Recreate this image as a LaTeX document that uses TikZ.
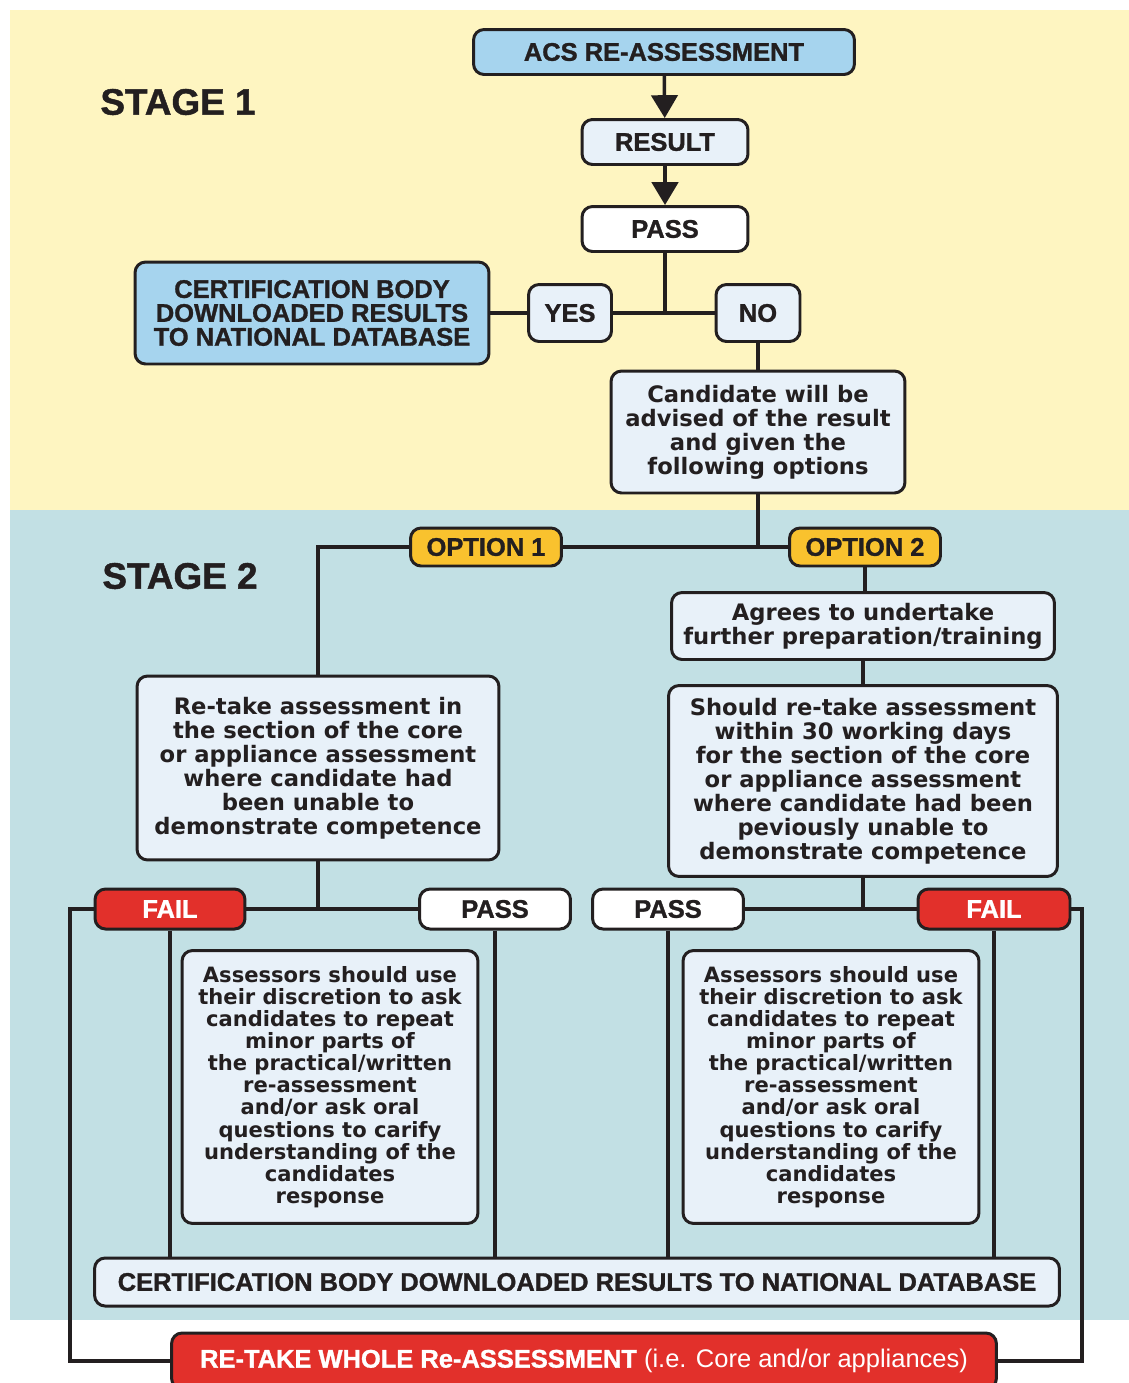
\documentclass[tikz,border=0pt]{standalone}
\usepackage{fontspec}
\setmainfont{Liberation Sans}
\newfontfamily\headfont[FakeBold=1.2]{Liberation Sans Bold}
\newfontfamily\bodyfont{DejaVu Sans}
\usetikzlibrary{arrows.meta}
\definecolor{stageyellow}{HTML}{FEF5C1}
\definecolor{stageteal}{HTML}{C2E0E4}
\definecolor{lightbox}{HTML}{A6D4EE}
\definecolor{palebox}{HTML}{E8F1F9}
\definecolor{optionbox}{HTML}{F9C22E}
\definecolor{failbox}{HTML}{E2302B}
\definecolor{boxline}{HTML}{231F20}
\tikzset{
	box/.style={draw=boxline, line width=1.7pt, rounded corners=6pt, inner sep=0pt, align=center, text=boxline},
	headbox/.style={box, font=\headfont\fontsize{14.5}{13.6}\selectfont},
	textbox/.style={box, fill=palebox, font=\bodyfont\bfseries\fontsize{12.9}{13.7}\selectfont},
	smallbox/.style={box, fill=palebox, font=\bodyfont\bfseries\fontsize{12}{12.6}\selectfont},
	stagelabel/.style={text=boxline, font=\headfont\fontsize{21}{24}\selectfont},
	link/.style={draw=boxline, line width=2pt},
	arrowlink/.style={link, -{Triangle[width=15pt,length=13pt]}},
}
\begin{document}
\begin{tikzpicture}[x=0.02cm, y=-0.02cm]
		\useasboundingbox (0,0) rectangle (1129,1383);
		\fill[white] (0,0) rectangle (1129,1383);
		\fill[stageyellow] (10,10) rectangle (1129,510);
		\fill[stageteal] (10,510) rectangle (1129,1320);
		\node[stagelabel] (stage1) at (178,102) {STAGE 1};
		\node[stagelabel] (stage2) at (180,576) {STAGE 2};
		\node[headbox, fill=lightbox, minimum width=7.62cm, minimum height=0.9cm] (acs) at (664,52) {ACS RE-ASSESSMENT};
		\node[headbox, fill=palebox, minimum width=3.32cm, minimum height=0.9cm] (result) at (665,142) {RESULT};
		\node[headbox, fill=white, minimum width=3.32cm, minimum height=0.9cm] (passtop) at (665,229) {PASS};
		\node[headbox, fill=palebox, minimum width=1.66cm, minimum height=1.14cm] (yes) at (570,313) {YES};
		\node[headbox, fill=palebox, minimum width=1.68cm, minimum height=1.14cm] (no) at (758,313) {NO};
		\node[headbox, fill=lightbox, minimum width=7.08cm, minimum height=2.04cm] (certtop) at (312,313) {CERTIFICATION BODY\\DOWNLOADED RESULTS\\TO NATIONAL DATABASE};
		\node[textbox, minimum width=5.88cm, minimum height=2.44cm] (cand) at (758,432) {Candidate will be\\advised of the result\\and given the\\following options};
		\node[headbox, fill=optionbox, minimum width=3.02cm, minimum height=0.76cm] (opt1) at (486,547) {OPTION 1};
		\node[headbox, fill=optionbox, minimum width=3.02cm, minimum height=0.76cm] (opt2) at (865,547) {OPTION 2};
		\node[textbox, minimum width=7.66cm, minimum height=1.34cm] (agree) at (863,626) {Agrees to undertake\\further preparation/training};
		\node[textbox, minimum width=7.78cm, minimum height=3.82cm] (should) at (863,781) {Should re-take assessment\\within 30 working days\\for the section of the core\\or appliance assessment\\where candidate had been\\peviously unable to\\demonstrate competence};
		\node[textbox, minimum width=7.24cm, minimum height=3.68cm] (retake) at (318,768) {Re-take assessment in\\the section of the core\\or appliance assessment\\where candidate had\\been unable to\\demonstrate competence};
		\node[headbox, fill=failbox, text=white, minimum width=3cm, minimum height=0.8cm] (failL) at (170,909) {FAIL};
		\node[headbox, fill=white, minimum width=3.02cm, minimum height=0.8cm] (passL) at (495,909) {PASS};
		\node[headbox, fill=white, minimum width=3.02cm, minimum height=0.8cm] (passR) at (668,909) {PASS};
		\node[headbox, fill=failbox, text=white, minimum width=3.04cm, minimum height=0.8cm] (failR) at (994,909) {FAIL};
		\node[smallbox, minimum width=5.92cm, minimum height=5.46cm] (assessL) at (330,1087) {Assessors should use\\their discretion to ask\\candidates to repeat\\minor parts of\\the practical/written\\re-assessment\\and/or ask oral\\questions to carify\\understanding of the\\candidates\\response};
		\node[smallbox, minimum width=5.92cm, minimum height=5.46cm] (assessR) at (831,1087) {Assessors should use\\their discretion to ask\\candidates to repeat\\minor parts of\\the practical/written\\re-assessment\\and/or ask oral\\questions to carify\\understanding of the\\candidates\\response};
		\node[headbox, fill=palebox, minimum width=19.3cm, minimum height=0.96cm] (certbot) at (577,1282) {CERTIFICATION BODY DOWNLOADED RESULTS TO NATIONAL DATABASE};
		\node[box, fill=failbox, text=white, font=\fontsize{14.5}{13.6}\selectfont, minimum width=16.5cm, minimum height=1.12cm] (retakeall) at (584,1361) {{\headfont RE-TAKE WHOLE Re-ASSESSMENT} (i.e. Core and/or appliances)};
		\coordinate (jyn) at (665,313);
		\coordinate (jopt) at (758,547);
		\coordinate (jL) at (318,909);
		\coordinate (jR) at (863,909);
		\coordinate (cornL) at (70,1361);
		\coordinate (cornR) at (1082,1361);
		\draw[arrowlink] (acs) -- (result);
		\draw[arrowlink] (result) -- (passtop);
		\draw[link] (passtop) -- (jyn);
		\draw[link] (yes) -- (no);
		\draw[link] (certtop) -- (yes);
		\draw[link] (no) -- (cand);
		\draw[link] (cand) -- (jopt);
		\draw[link] (opt1) -- (opt2);
		\draw[link] (opt1.west) -| (retake.north);
		\draw[link] (opt2.south) -- (opt2.south |- agree.north);
		\draw[link] (agree.south) -- (agree.south |- should.north);
		\draw[link] (retake.south) -- (jL);
		\draw[link] (failL) -- (passL);
		\draw[link] (should.south) -- (jR);
		\draw[link] (passR) -- (failR);
		\draw[link] (failL.south) -- (failL.south |- certbot.north);
		\draw[link] (passL.south) -- (passL.south |- certbot.north);
		\draw[link] (passR.south) -- (passR.south |- certbot.north);
		\draw[link] (failR.south) -- (failR.south |- certbot.north);
		\draw[link] (failL.west) -| (cornL) -- (retakeall.west);
		\draw[link] (failR.east) -| (cornR) -- (retakeall.east);
	\end{tikzpicture}
\end{document}
